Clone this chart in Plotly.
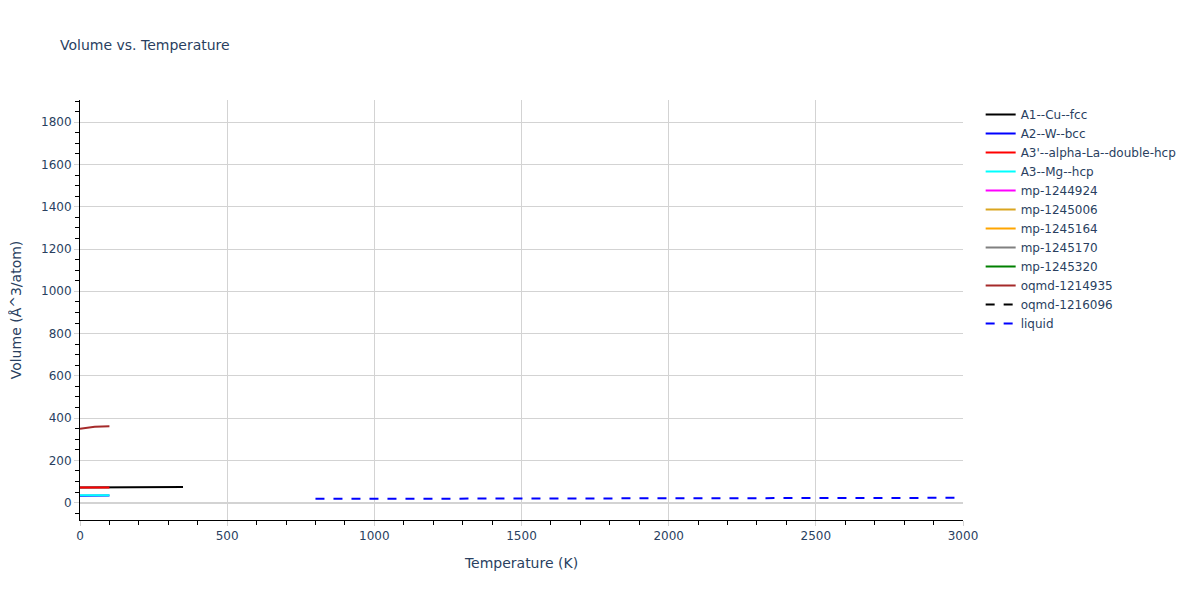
import plotly.graph_objects as go

# temperature (K) and volume (A^3/atom) per phase
t_cu_fcc = [0, 50, 100, 150, 200, 250, 300, 350]
v_cu_fcc = [72.0, 72.4, 72.8, 73.1, 73.4, 73.7, 74.0, 74.3]

t_w_bcc = [0, 25, 50, 75, 100]
v_w_bcc = [33.2, 33.3, 33.4, 33.6, 33.8]

t_la_dhcp = [0, 25, 50, 75, 100]
v_la_dhcp = [71.5, 71.6, 71.8, 72.0, 72.2]

t_mg_hcp = [0, 25, 50, 75, 100]
v_mg_hcp = [35.0, 35.1, 35.2, 35.4, 35.6]

t_oqmd_1214935 = [0, 25, 50, 75, 100]
v_oqmd_1214935 = [350.0, 355.0, 359.0, 360.5, 361.0]

t_liquid = [800, 1000, 1200, 1400, 1600, 1800, 2000, 2200, 2400, 2600, 2800, 3000]
v_liquid = [18.0, 18.4, 18.9, 19.4, 19.8, 20.3, 20.8, 21.3, 21.8, 22.2, 22.6, 23.0]

# phases listed in the legend with nothing visible on the plot
no_data = [None]

series = [
    ('A1--Cu--fcc', t_cu_fcc, v_cu_fcc, 'black', 'solid'),
    ('A2--W--bcc', t_w_bcc, v_w_bcc, 'blue', 'solid'),
    ("A3'--alpha-La--double-hcp", t_la_dhcp, v_la_dhcp, 'red', 'solid'),
    ('A3--Mg--hcp', t_mg_hcp, v_mg_hcp, 'cyan', 'solid'),
    ('mp-1244924', no_data, no_data, 'magenta', 'solid'),
    ('mp-1245006', no_data, no_data, 'goldenrod', 'solid'),
    ('mp-1245164', no_data, no_data, 'orange', 'solid'),
    ('mp-1245170', no_data, no_data, 'gray', 'solid'),
    ('mp-1245320', no_data, no_data, 'green', 'solid'),
    ('oqmd-1214935', t_oqmd_1214935, v_oqmd_1214935, 'brown', 'solid'),
    ('oqmd-1216096', no_data, no_data, 'black', 'dash'),
    ('liquid', t_liquid, v_liquid, 'blue', 'dash'),
]

fig = go.Figure()
for name, t, v, color, dash in series:
    fig.add_trace(go.Scatter(
        x=t, y=v, mode='lines', name=name, showlegend=True,
        line=dict(color=color, width=2, dash=dash)))

axis_style = dict(
    showline=True, linecolor='black', gridcolor='lightgray',
    zeroline=True, zerolinecolor='lightgray', zerolinewidth=2,
    ticks='outside', tickcolor='lightgray', ticklen=5,
    title_font_size=14, automargin=False,
)

fig.update_layout(
    template='plotly',
    width=1200, height=600,
    margin=dict(l=72, r=245, t=92, b=88),
    font=dict(family='DejaVu Sans, Verdana, sans-serif', size=12),
    title=dict(text='Volume vs. Temperature', font_size=14,
               x=0.0433, y=0.938, yanchor='middle'),
    plot_bgcolor='white',
    paper_bgcolor='white',
    xaxis=dict(title='Temperature (K)', range=[0, 3000], dtick=500,
               minor=dict(ticks='outside', tickcolor='black', ticklen=4,
                          dtick=100, showgrid=False),
               **axis_style),
    yaxis=dict(title=dict(text='Volume (Å^3/atom)', standoff=20),
               range=[-82, 1905], dtick=200,
               minor=dict(ticks='outside', tickcolor='black', ticklen=4,
                          dtick=50, showgrid=False),
               **axis_style),
)

fig.write_html('out.html')
